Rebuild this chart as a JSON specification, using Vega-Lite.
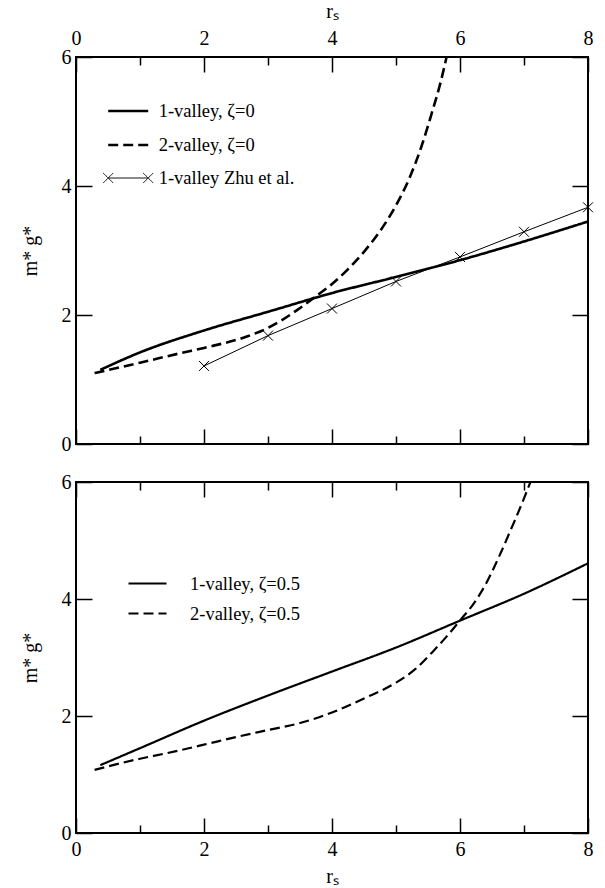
{
  "$schema": "https://vega.github.io/schema/vega-lite/v6.json",
  "padding": {"left": 19, "top": 0, "right": 16, "bottom": 0},
  "background": "white",
  "spacing": 16,
  "resolve": {"scale": {"strokeDash": "independent", "strokeWidth": "independent", "shape": "independent"}},
  "config": {
    "font": "Liberation Serif",
    "view": {"stroke": "black", "strokeWidth": 2},
    "axis": {"domain": false, "grid": false, "labelFont": "Liberation Serif", "labelFontSize": 20, "labelColor": "black", "titleFont": "Liberation Serif", "titleFontSize": 20, "titleFontWeight": "normal", "titleColor": "black", "tickColor": "black", "tickWidth": 1.5, "labelFlush": false, "labelOverlap": false},
    "legend": {"title": null, "orient": "none", "padding": 0, "symbolStrokeColor": "black", "symbolFillColor": "transparent", "symbolOpacity": 1, "labelFont": "Liberation Serif", "labelFontSize": 18.5, "labelColor": "black", "labelLimit": 400}
  },
  "datasets": {
    "upper": [
      {"series": "1-valley, ζ=0", "rs": 0.38, "m": 1.15},
      {"series": "1-valley, ζ=0", "rs": 1, "m": 1.42},
      {"series": "1-valley, ζ=0", "rs": 2, "m": 1.76},
      {"series": "1-valley, ζ=0", "rs": 3, "m": 2.05},
      {"series": "1-valley, ζ=0", "rs": 4, "m": 2.34},
      {"series": "1-valley, ζ=0", "rs": 5, "m": 2.59},
      {"series": "1-valley, ζ=0", "rs": 6, "m": 2.85},
      {"series": "1-valley, ζ=0", "rs": 7, "m": 3.14},
      {"series": "1-valley, ζ=0", "rs": 8, "m": 3.45},
      {"series": "2-valley, ζ=0", "rs": 0.29, "m": 1.1},
      {"series": "2-valley, ζ=0", "rs": 1, "m": 1.26},
      {"series": "2-valley, ζ=0", "rs": 1.64, "m": 1.41},
      {"series": "2-valley, ζ=0", "rs": 2, "m": 1.49},
      {"series": "2-valley, ζ=0", "rs": 2.68, "m": 1.67},
      {"series": "2-valley, ζ=0", "rs": 3, "m": 1.8},
      {"series": "2-valley, ζ=0", "rs": 3.46, "m": 2.08},
      {"series": "2-valley, ζ=0", "rs": 3.72, "m": 2.27},
      {"series": "2-valley, ζ=0", "rs": 4, "m": 2.48},
      {"series": "2-valley, ζ=0", "rs": 4.24, "m": 2.7},
      {"series": "2-valley, ζ=0", "rs": 4.5, "m": 2.98},
      {"series": "2-valley, ζ=0", "rs": 4.75, "m": 3.3},
      {"series": "2-valley, ζ=0", "rs": 5.0, "m": 3.7},
      {"series": "2-valley, ζ=0", "rs": 5.2, "m": 4.1},
      {"series": "2-valley, ζ=0", "rs": 5.4, "m": 4.62},
      {"series": "2-valley, ζ=0", "rs": 5.55, "m": 5.1},
      {"series": "2-valley, ζ=0", "rs": 5.7, "m": 5.62},
      {"series": "2-valley, ζ=0", "rs": 5.79, "m": 6.0},
      {"series": "1-valley  Zhu et al.", "rs": 2, "m": 1.21},
      {"series": "1-valley  Zhu et al.", "rs": 3, "m": 1.68},
      {"series": "1-valley  Zhu et al.", "rs": 4, "m": 2.1},
      {"series": "1-valley  Zhu et al.", "rs": 5, "m": 2.52},
      {"series": "1-valley  Zhu et al.", "rs": 6, "m": 2.9},
      {"series": "1-valley  Zhu et al.", "rs": 7, "m": 3.29},
      {"series": "1-valley  Zhu et al.", "rs": 8, "m": 3.67}
    ],
    "lower": [
      {"series": "1-valley, ζ=0.5", "rs": 0.38, "m": 1.16},
      {"series": "1-valley, ζ=0.5", "rs": 1, "m": 1.45},
      {"series": "1-valley, ζ=0.5", "rs": 2, "m": 1.92},
      {"series": "1-valley, ζ=0.5", "rs": 3, "m": 2.35},
      {"series": "1-valley, ζ=0.5", "rs": 4, "m": 2.76},
      {"series": "1-valley, ζ=0.5", "rs": 5, "m": 3.17},
      {"series": "1-valley, ζ=0.5", "rs": 6, "m": 3.63},
      {"series": "1-valley, ζ=0.5", "rs": 7, "m": 4.09},
      {"series": "1-valley, ζ=0.5", "rs": 8, "m": 4.61},
      {"series": "2-valley, ζ=0.5", "rs": 0.29, "m": 1.08},
      {"series": "2-valley, ζ=0.5", "rs": 1, "m": 1.27},
      {"series": "2-valley, ζ=0.5", "rs": 1.4, "m": 1.36},
      {"series": "2-valley, ζ=0.5", "rs": 2, "m": 1.51},
      {"series": "2-valley, ζ=0.5", "rs": 2.5, "m": 1.64},
      {"series": "2-valley, ζ=0.5", "rs": 3, "m": 1.76},
      {"series": "2-valley, ζ=0.5", "rs": 3.5, "m": 1.88},
      {"series": "2-valley, ζ=0.5", "rs": 4, "m": 2.06},
      {"series": "2-valley, ζ=0.5", "rs": 4.5, "m": 2.3},
      {"series": "2-valley, ζ=0.5", "rs": 5.0, "m": 2.57},
      {"series": "2-valley, ζ=0.5", "rs": 5.3, "m": 2.8},
      {"series": "2-valley, ζ=0.5", "rs": 5.6, "m": 3.13},
      {"series": "2-valley, ζ=0.5", "rs": 5.8, "m": 3.37},
      {"series": "2-valley, ζ=0.5", "rs": 6.02, "m": 3.66},
      {"series": "2-valley, ζ=0.5", "rs": 6.2, "m": 3.9},
      {"series": "2-valley, ζ=0.5", "rs": 6.4, "m": 4.25},
      {"series": "2-valley, ζ=0.5", "rs": 6.6, "m": 4.7},
      {"series": "2-valley, ζ=0.5", "rs": 6.8, "m": 5.2},
      {"series": "2-valley, ζ=0.5", "rs": 7.0, "m": 5.72},
      {"series": "2-valley, ζ=0.5", "rs": 7.1, "m": 6.0}
    ]
  },
  "vconcat": [
    {
      "width": 512,
      "height": 387,
      "data": {"name": "upper"},
      "layer": [
        {
          "transform": [{"filter": "indexof(datum.series, 'Zhu') < 0"}],
          "mark": {"type": "line", "interpolate": "monotone", "stroke": "black", "clip": true},
          "encoding": {
            "x": {"field": "rs", "type": "quantitative", "scale": {"domain": [0, 8], "nice": false},
              "axis": {"orient": "top", "title": "rₛ", "values": [0, 1, 2, 3, 4, 5, 6, 7, 8], "labelExpr": "datum.value % 2 === 0 ? datum.label : ''", "tickSize": {"condition": {"test": "datum.value % 2 === 0", "value": -15}, "value": -8}, "labelPadding": 24, "titlePadding": 0}},
            "y": {"field": "m", "type": "quantitative", "scale": {"domain": [0, 6], "nice": false},
              "axis": {"orient": "left", "title": "m* g*", "values": [0, 2, 4, 6], "tickSize": -16, "labelPadding": 21, "titlePadding": 21}},
            "strokeDash": {"field": "series", "type": "nominal",
              "scale": {"domain": ["1-valley, ζ=0", "2-valley, ζ=0", "1-valley  Zhu et al."], "range": [[1, 0], [10, 5], [1, 0]]},
              "legend": {"legendX": 40.7, "legendY": 42.5, "symbolSize": 400, "labelOffset": 19, "rowPadding": 13}},
            "strokeWidth": {"field": "series", "type": "nominal",
              "scale": {"type": "ordinal", "domain": ["1-valley, ζ=0", "2-valley, ζ=0", "1-valley  Zhu et al."], "range": [2.6, 2.6, 1]},
              "legend": {"legendX": 40.7, "legendY": 42.5, "symbolSize": 400, "labelOffset": 19, "rowPadding": 13}}
          }
        },
        {
          "transform": [{"filter": "indexof(datum.series, 'Zhu') >= 0"}],
          "mark": {"type": "line", "stroke": "black", "strokeWidth": 1},
          "encoding": {
            "x": {"field": "rs", "type": "quantitative",
              "axis": {"orient": "bottom", "title": null, "labels": false, "values": [0, 1, 2, 3, 4, 5, 6, 7, 8], "tickSize": {"condition": {"test": "datum.value % 2 === 0", "value": -15}, "value": -8}}},
            "y": {"field": "m", "type": "quantitative",
              "axis": {"orient": "right", "title": null, "labels": false, "values": [0, 2, 4, 6], "tickSize": -16}}
          }
        },
        {
          "transform": [{"filter": "indexof(datum.series, 'Zhu') >= 0"}],
          "mark": {"type": "point", "shape": "M-1,-1L1,1M-1,1L1,-1", "size": 100, "filled": false, "stroke": "black", "strokeWidth": 1, "opacity": 1},
          "encoding": {
            "x": {"field": "rs", "type": "quantitative", "axis": null},
            "y": {"field": "m", "type": "quantitative", "axis": null}
          }
        },
        {
          "transform": [{"filter": "indexof(datum.series, 'Zhu') >= 0"}],
          "mark": {"type": "point", "size": 400, "filled": false, "stroke": "black", "opacity": 0},
          "encoding": {
            "x": {"field": "rs", "type": "quantitative", "axis": null},
            "y": {"field": "m", "type": "quantitative", "axis": null},
            "shape": {"field": "series", "type": "nominal",
              "scale": {"domain": ["1-valley, ζ=0", "2-valley, ζ=0", "1-valley  Zhu et al."], "range": ["M-2,0L2,0", "M-2,0L2,0", "M-2,0L2,0M-2.5,-0.5L-1.5,0.5M-2.5,0.5L-1.5,-0.5M1.5,-0.5L2.5,0.5M1.5,0.5L2.5,-0.5"]},
              "legend": {"legendX": 40.7, "legendY": 42.5, "symbolSize": 400, "labelOffset": 19, "rowPadding": 13}}
          }
        }
      ],
      "resolve": {"axis": {"x": "independent", "y": "independent"}}
    },
    {
      "width": 512,
      "height": 351,
      "data": {"name": "lower"},
      "layer": [
        {
          "transform": [{"filter": "indexof(datum.series, '1-valley') >= 0"}],
          "mark": {"type": "line", "interpolate": "monotone", "stroke": "black", "strokeWidth": 2.2, "clip": true},
          "encoding": {
            "x": {"field": "rs", "type": "quantitative", "scale": {"domain": [0, 8], "nice": false},
              "axis": {"orient": "bottom", "title": "rₛ", "values": [0, 1, 2, 3, 4, 5, 6, 7, 8], "labelExpr": "datum.value % 2 === 0 ? datum.label : ''", "tickSize": {"condition": {"test": "datum.value % 2 === 0", "value": -15}, "value": -8}, "labelPadding": 21, "titlePadding": 0}},
            "y": {"field": "m", "type": "quantitative", "scale": {"domain": [0, 6], "nice": false},
              "axis": {"orient": "left", "title": "m* g*", "values": [0, 2, 4, 6], "tickSize": -16, "labelPadding": 21, "titlePadding": 21}},
            "strokeDash": {"field": "series", "type": "nominal",
              "scale": {"domain": ["1-valley, ζ=0.5", "2-valley, ζ=0.5"], "range": [[1, 0], [10, 5]]},
              "legend": {"legendX": 60.5, "legendY": 90.5, "symbolType": "M-2,0L2,0", "symbolSize": 361, "labelOffset": 31.5, "rowPadding": 9, "symbolStrokeWidth": 2.2}
            }
          }
        },
        {
          "transform": [{"filter": "indexof(datum.series, '2-valley') >= 0"}],
          "mark": {"type": "line", "interpolate": "monotone", "stroke": "black", "strokeWidth": 2.2, "clip": true},
          "encoding": {
            "x": {"field": "rs", "type": "quantitative",
              "axis": {"orient": "top", "title": null, "labels": false, "values": [0, 1, 2, 3, 4, 5, 6, 7, 8], "tickSize": {"condition": {"test": "datum.value % 2 === 0", "value": -15}, "value": -8}}},
            "y": {"field": "m", "type": "quantitative",
              "axis": {"orient": "right", "title": null, "labels": false, "values": [0, 2, 4, 6], "tickSize": -16}},
            "strokeDash": {"field": "series", "type": "nominal",
              "legend": {"legendX": 60.5, "legendY": 90.5, "symbolType": "M-2,0L2,0", "symbolSize": 361, "labelOffset": 31.5, "rowPadding": 9, "symbolStrokeWidth": 2.2}}
          }
        }
      ],
      "resolve": {"axis": {"x": "independent", "y": "independent"}}
    }
  ]
}
